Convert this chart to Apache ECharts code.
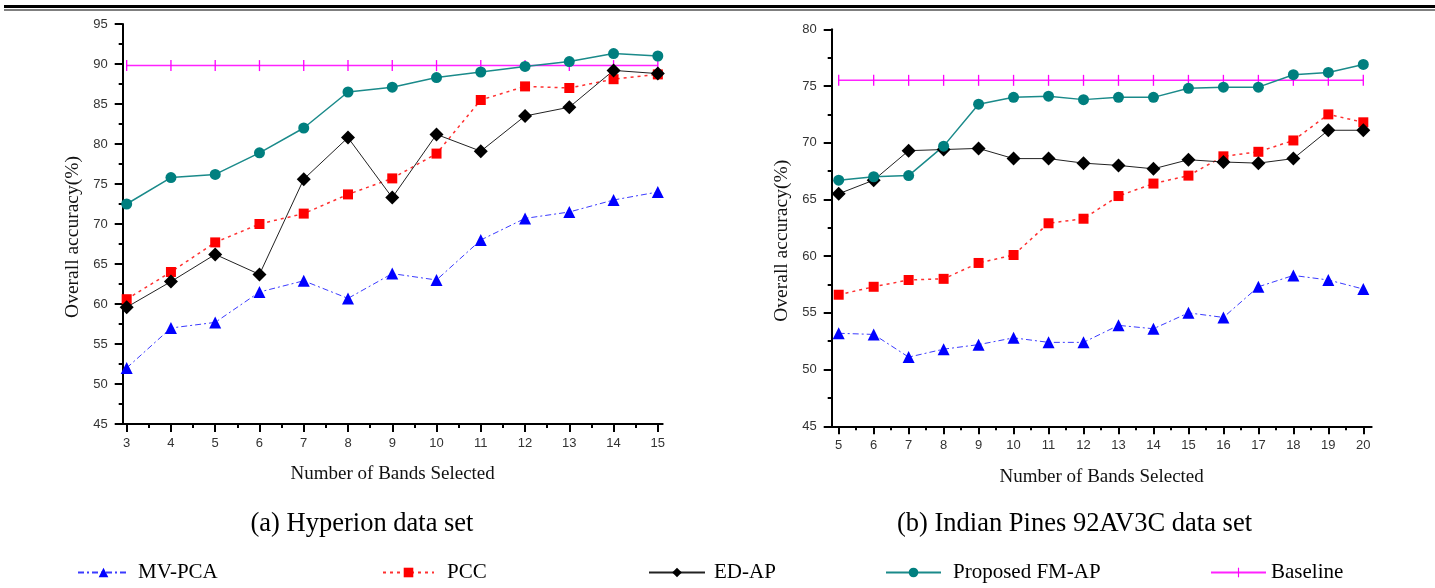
<!DOCTYPE html>
<html>
<head>
<meta charset="utf-8">
<script src="https://cdn.jsdelivr.net/npm/echarts@6/dist/echarts.min.js"></script>
<style>
  html, body { margin: 0; padding: 0; background: #fff; }
  #chart { width: 1435px; height: 588px; }
</style>
</head>
<body>
<div id="chart"></div>
<script>
// (a) Hyperion data set
var bandsA = [3, 4, 5, 6, 7, 8, 9, 10, 11, 12, 13, 14, 15];
var mvpcaA = [52.0, 57.0, 57.7, 61.5, 62.9, 60.7, 63.8, 63.0, 68.0, 70.7, 71.5, 73.0, 74.0];
var pccA   = [60.6, 64.0, 67.7, 70.0, 71.3, 73.7, 75.7, 78.8, 85.5, 87.2, 87.0, 88.1, 88.7];
var edapA  = [59.6, 62.8, 66.2, 63.7, 75.6, 80.8, 73.3, 81.2, 79.1, 83.5, 84.6, 89.2, 88.8];
var fmapA  = [72.5, 75.8, 76.2, 78.9, 82.0, 86.5, 87.1, 88.3, 89.0, 89.7, 90.3, 91.3, 91.0];
var baseA  = 89.8;

// (b) Indian Pines 92AV3C data set
var bandsB = [5, 6, 7, 8, 9, 10, 11, 12, 13, 14, 15, 16, 17, 18, 19, 20];
var mvpcaB = [53.2, 53.1, 51.1, 51.8, 52.2, 52.8, 52.4, 52.4, 53.9, 53.6, 55.0, 54.6, 57.3, 58.3, 57.9, 57.1];
var pccB   = [56.6, 57.3, 57.9, 58.0, 59.4, 60.1, 62.9, 63.3, 65.3, 66.4, 67.1, 68.8, 69.2, 70.2, 72.5, 71.8];
var edapB  = [65.5, 66.7, 69.3, 69.4, 69.5, 68.6, 68.6, 68.2, 68.0, 67.7, 68.5, 68.3, 68.2, 68.6, 71.1, 71.1];
var fmapB  = [66.7, 67.0, 67.1, 69.7, 73.4, 74.0, 74.1, 73.8, 74.0, 74.0, 74.8, 74.9, 74.9, 76.0, 76.2, 76.9];
var baseB  = 75.5;

var yTicksA = [45, 95, 5];
var yTicksB = [45, 80, 5];

var serif = '"Liberation Serif", "DejaVu Serif", serif';
var sans = '"Liberation Sans", Arial, sans-serif';

function pairs(xs, ys) {
    return xs.map(function (x, i) { return [x, ys[i]]; });
}
function flat(xs, v) {
    return xs.map(function (x) { return [x, v]; });
}
function halves(a, b) {
    var out = [];
    for (var v = a + 0.5; v < b; v += 1) out.push(v);
    return out;
}

// thin vertical bar inside a square box (so it is not stretched in the legend)
var tickMark = 'path://M0,0M10,10M4.4,0h1.2v10h-1.2z';

var styles = {
    'MV-PCA': { symbol: 'triangle', size: 12, color: '#0000ff', line: { color: '#3b3bff', width: 1, type: [6, 3, 2, 3] } },
    'PCC': { symbol: 'rect', size: 10, color: '#ff0000', line: { color: '#ff3030', width: 1.5, type: [3, 4] } },
    'ED-AP': { symbol: 'diamond', size: 14, color: '#000000', line: { color: '#222', width: 1, type: 'solid' } },
    'Proposed FM-AP': { symbol: 'circle', size: 11, color: '#007f7f', line: { color: '#1a8a8a', width: 1.5, type: 'solid' } },
    'Baseline': { symbol: tickMark, size: 11, color: '#ff00ff', line: { color: '#ff22ff', width: 1.5, type: 'solid' } }
};

function mkSeries(name, data, idx) {
    var s = styles[name];
    return {
        name: name,
        type: 'line',
        xAxisIndex: idx,
        yAxisIndex: idx,
        data: data,
        symbol: s.symbol,
        symbolSize: s.size,
        showAllSymbol: true,
        itemStyle: { color: s.color },
        lineStyle: s.line,
        animation: false,
        z: name === 'Baseline' ? 1 : 3
    };
}

function xAxisMain(grid, lo, hi, labels) {
    return {
        type: 'value', gridIndex: grid, min: lo, max: hi,
        name: 'Number of Bands Selected', nameLocation: 'middle', nameGap: 41,
        nameTextStyle: { fontFamily: serif, fontSize: 19, color: '#111' },
        axisLine: { lineStyle: { color: '#000', width: 2 } },
        axisTick: { customValues: labels, length: 8, lineStyle: { color: '#000', width: 2 } },
        axisLabel: { customValues: labels, margin: 13, fontFamily: sans, fontSize: 13, color: '#333' },
        splitLine: { show: false }
    };
}
function xAxisMinor(grid, lo, hi, vals) {
    return {
        type: 'value', gridIndex: grid, min: lo, max: hi, position: 'bottom',
        axisLine: { show: false },
        axisTick: { customValues: vals, length: 4, lineStyle: { color: '#000', width: 2 } },
        axisLabel: { show: false },
        splitLine: { show: false }
    };
}
function yAxisMain(grid, t) {
    return {
        type: 'value', gridIndex: grid, min: t[0], max: t[1], interval: t[2],
        name: 'Overall accuracy(%)', nameLocation: 'middle', nameGap: 40,
        nameTextStyle: { fontFamily: serif, fontSize: 19.5, color: '#111', padding: [0, 26, 0, 0] },
        axisLine: { show: true, lineStyle: { color: '#000', width: 2 } },
        axisTick: { show: true, length: 8, lineStyle: { color: '#000', width: 2 } },
        minorTick: { show: true, splitNumber: 2, length: 4, lineStyle: { color: '#000', width: 2 } },
        axisLabel: { margin: 15, fontFamily: sans, fontSize: 13, color: '#333' },
        splitLine: { show: false }
    };
}

var names = ['MV-PCA', 'PCC', 'ED-AP', 'Proposed FM-AP', 'Baseline'];
var legendLeft = [77, 382, 648, 885, 1210];
var legendIconW = [51, 51, 56, 55, 55];
var legendTextPad = [4, 8, 4, 7, 0];

var series = [
    mkSeries('Baseline', flat(bandsA, baseA), 0),
    mkSeries('MV-PCA', pairs(bandsA, mvpcaA), 0),
    mkSeries('PCC', pairs(bandsA, pccA), 0),
    mkSeries('ED-AP', pairs(bandsA, edapA), 0),
    mkSeries('Proposed FM-AP', pairs(bandsA, fmapA), 0),
    mkSeries('Baseline', flat(bandsB, baseB), 1),
    mkSeries('MV-PCA', pairs(bandsB, mvpcaB), 1),
    mkSeries('PCC', pairs(bandsB, pccB), 1),
    mkSeries('ED-AP', pairs(bandsB, edapB), 1),
    mkSeries('Proposed FM-AP', pairs(bandsB, fmapB), 1)
];

var legends = names.map(function (n, i) {
    return {
        data: [n], left: legendLeft[i], top: 562, padding: 0,
        itemWidth: legendIconW[i], itemHeight: 12, itemGap: 0,
        textStyle: { fontFamily: serif, fontSize: 21, color: '#000', padding: [0, 0, 0, legendTextPad[i]] },
        selectedMode: false
    };
});

var myChart = echarts.init(document.getElementById('chart'));
var option = {
    backgroundColor: '#fff',
    animation: false,
    grid: [
        { left: 122.7, top: 24, width: 540, height: 400 },
        { left: 831.7, top: 29.3, width: 540, height: 397 }
    ],
    xAxis: [
        xAxisMain(0, 2.91, 15.11, bandsA),
        xAxisMain(1, 4.8, 20.24, bandsB),
        xAxisMinor(0, 2.91, 15.11, halves(3, 15)),
        xAxisMinor(1, 4.8, 20.24, halves(5, 20))
    ],
    yAxis: [yAxisMain(0, yTicksA), yAxisMain(1, yTicksB)],
    legend: legends,
    graphic: [
        { type: 'rect', shape: { x: 4, y: 5, width: 1431, height: 3 }, style: { fill: '#000' } },
        { type: 'rect', shape: { x: 4, y: 9.5, width: 1431, height: 1 }, style: { fill: '#000' } },
        { type: 'text', x: 362, y: 524, style: { text: '(a) Hyperion data set', font: '26.5px ' + serif, fill: '#000', textAlign: 'center', textVerticalAlign: 'middle' } },
        { type: 'text', x: 1074.5, y: 524, style: { text: '(b) Indian Pines 92AV3C data set', font: '26.5px ' + serif, fill: '#000', textAlign: 'center', textVerticalAlign: 'middle' } }
    ],
    series: series
};
myChart.setOption(option);
</script>
</body>
</html>
